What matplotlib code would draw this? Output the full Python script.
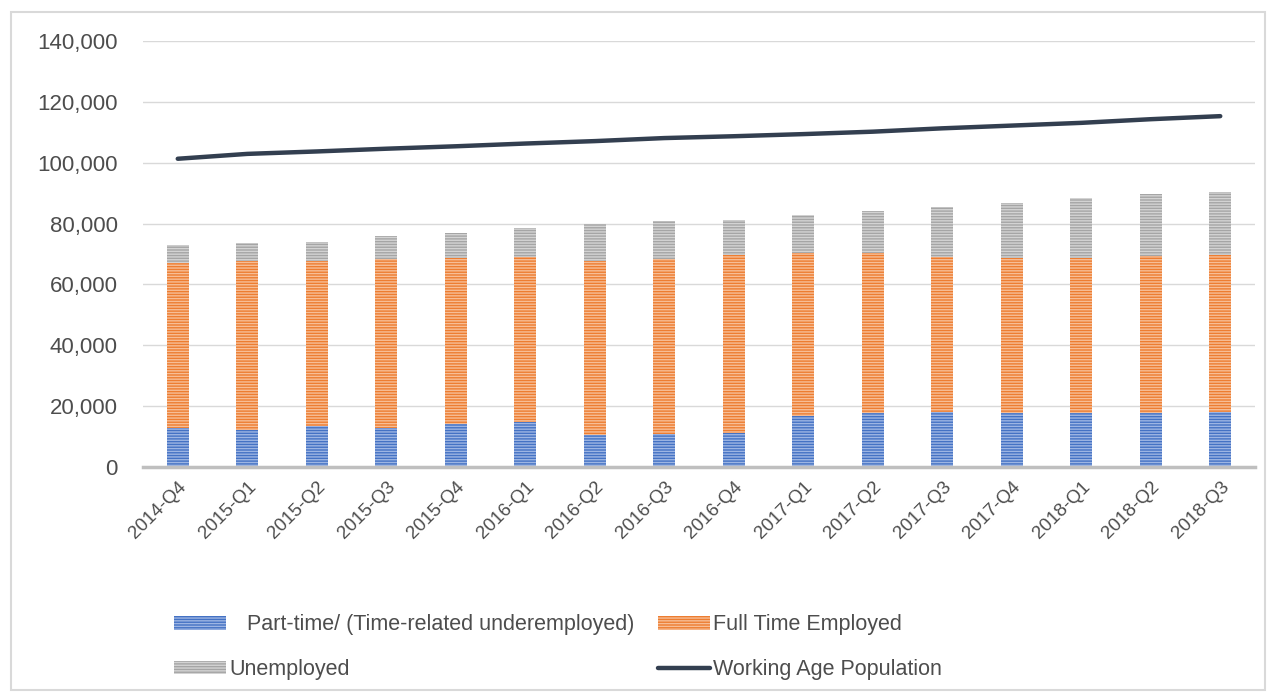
import matplotlib
matplotlib.use('Agg')
from matplotlib import pyplot as plt
from matplotlib.patches import Rectangle
import numpy as np

quarters = ['2014-Q4', '2015-Q1', '2015-Q2', '2015-Q3', '2015-Q4', '2016-Q1', '2016-Q2', '2016-Q3',
            '2016-Q4', '2017-Q1', '2017-Q2', '2017-Q3', '2017-Q4', '2018-Q1', '2018-Q2', '2018-Q3']
part_time = [12900, 12100, 13500, 12900, 14200, 14800, 10500, 10900,
             11200, 16800, 17600, 18000, 17600, 17600, 17600, 18000]
# cumulative employed (part-time + full time)
employed_total = [66900, 67700, 67700, 68200, 68600, 69100, 67700, 68500,
                  69600, 70400, 70400, 69100, 68700, 68700, 69200, 69600]
labour_total = [72800, 73500, 73800, 76000, 76800, 78400, 79800, 80700,
                81100, 82800, 84000, 85300, 86600, 88300, 89600, 90400]
working_age = [101300, 102900, 103700, 104600, 105400, 106300, 107100, 108100,
               108700, 109400, 110200, 111300, 112200, 113100, 114300, 115300]

full_time = [e - p for e, p in zip(employed_total, part_time)]
unemployed = [t - e for t, e in zip(labour_total, employed_total)]

plt.rcParams['font.family'] = ['Liberation Sans', 'DejaVu Sans']
plt.rcParams['hatch.linewidth'] = 1.0

fig = plt.figure(figsize=(12.71, 6.95), dpi=100)
ax = fig.add_axes([143 / 1271, 1 - 467 / 695, (1255 - 143) / 1271, (467 - 41) / 695])

x = np.arange(len(quarters))
w = 0.32
b1 = ax.bar(x, part_time, w, color='#4472C4', edgecolor='#9DB5E3', linewidth=0, hatch='------', zorder=2)
b2 = ax.bar(x, full_time, w, bottom=part_time, color='#ED7D31', edgecolor='#F7BE96', linewidth=0,
            hatch='------', zorder=2)
b3 = ax.bar(x, unemployed, w, bottom=employed_total, color='#A5A5A5', edgecolor='#D3D3D3', linewidth=0,
            hatch='------', zorder=2)
ln, = ax.plot(x, working_age, color='#333F50', linewidth=3.2, solid_capstyle='round', zorder=3)

ax.set_xlim(-0.5, len(quarters) - 0.5)
ax.set_ylim(0, 140000)
ax.set_yticks(np.arange(0, 140001, 20000))
ax.set_yticklabels([f'{v:,}' for v in range(0, 140001, 20000)])
ax.set_xticks(x)
ax.set_xticklabels(quarters, rotation=45, ha='right', rotation_mode='anchor')
ax.tick_params(axis='y', length=0, pad=18, labelsize=16, labelcolor='#4D4D4D')
ax.tick_params(axis='x', length=0, pad=8, labelsize=13.5, labelcolor='#4D4D4D')
ax.grid(axis='y', color='#D9D9D9', linewidth=1, zorder=0)
for s in ['top', 'right', 'left']:
    ax.spines[s].set_visible(False)
ax.spines['bottom'].set_color('#BFBFBF')
ax.spines['bottom'].set_linewidth(2.5)
ax.spines['bottom'].set_zorder(4)

fig.legend([b1, b3, b2, ln],
           ['   Part-time/ (Time-related underemployed)', 'Unemployed', 'Full Time Employed',
            'Working Age Population'],
           ncol=2, loc='upper left', bbox_to_anchor=(155 / 1271, 1 - 595 / 695), frameon=False,
           fontsize=15.5, handlelength=2.4, handleheight=0.6, handletextpad=0.15, labelspacing=1.1,
           columnspacing=1.1, labelcolor='#4D4D4D')

fig.patches.append(Rectangle((11 / 1271, 5 / 695), 1254 / 1271, 678 / 695, transform=fig.transFigure,
                             fill=False, edgecolor='#D9D9D9', linewidth=1.5))

fig.savefig('out.png', dpi=100)
